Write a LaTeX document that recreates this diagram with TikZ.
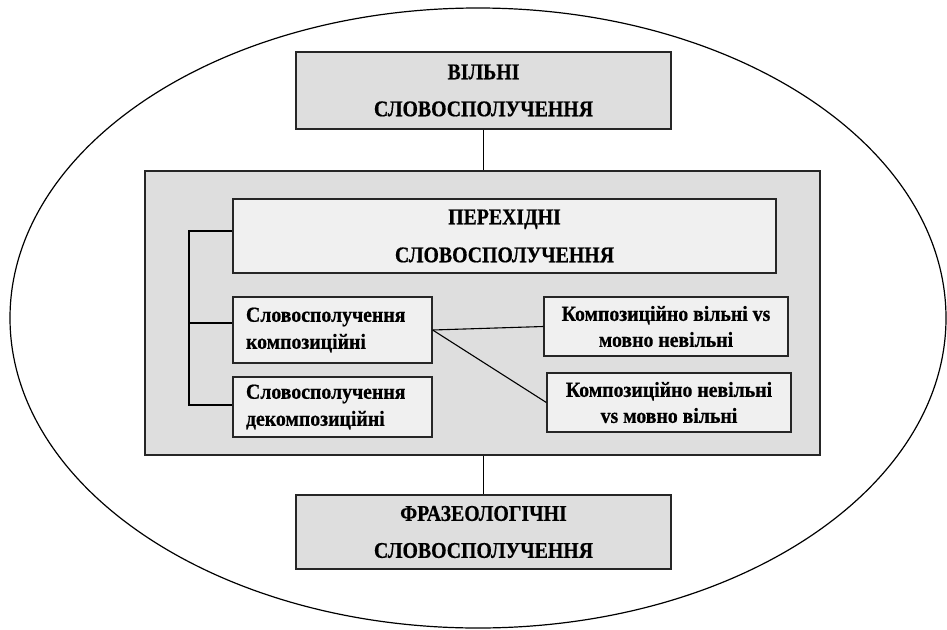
\documentclass[tikz,border=0pt]{standalone}
\usepackage{fontspec}
\setmainfont{Liberation Serif}
\newfontfamily\bigfont{Liberation Serif}[FakeStretch=0.88, BoldFeatures={FakeBold=0.6}]
\newfontfamily\smallfont{Liberation Serif}[FakeStretch=0.92, BoldFeatures={FakeBold=0.6}]
\definecolor{outerfill}{HTML}{DEDEDE}
\definecolor{innerfill}{HTML}{F0F0F0}
\tikzset{
  bigbox/.style={draw=black!85, line width=1.3pt, fill=outerfill, inner sep=0pt, align=center,
    font=\bigfont\fontsize{22.5}{37}\selectfont\bfseries},
  panel/.style={draw=black!85, line width=1.3pt, fill=outerfill, inner sep=0pt},
  transbox/.style={draw=black!85, line width=1.3pt, fill=innerfill, inner sep=0pt, align=center,
    font=\bigfont\fontsize{22.5}{38}\selectfont\bfseries},
  leftbox/.style={draw=black!85, line width=1.3pt, fill=innerfill, inner xsep=13pt, inner ysep=0pt,
    align=left, text width=173pt, font=\smallfont\fontsize{21.5}{27}\selectfont\bfseries},
  rightbox/.style={draw=black!85, line width=1.3pt, fill=innerfill, inner sep=0pt, align=center,
    font=\smallfont\fontsize{21.5}{26}\selectfont\bfseries},
  bracket/.style={line width=2.2pt, draw=black},
  link/.style={line width=1.1pt, draw=black},
}
\begin{document}
\begin{tikzpicture}[x=1pt, y=-1pt]
\useasboundingbox (0,0) rectangle (947,629);
\clip (0,0) rectangle (947,629);
\fill[white] (0,0) rectangle (947,629);
\draw[line width=1.2pt] (478,318) ellipse [x radius=468, y radius=310];

\node[bigbox, minimum width=375pt, minimum height=77pt] (top) at (483.5,90.5) {ВІЛЬНІ\\СЛОВОСПОЛУЧЕННЯ};
\node[panel, minimum width=675pt, minimum height=284pt] (panel) at (482.5,313) {};
\node[transbox, minimum width=543pt, minimum height=74pt] (trans) at (504.5,236) {ПЕРЕХІДНІ\\СЛОВОСПОЛУЧЕННЯ};
\node[leftbox, minimum height=66pt] (comp) at (332.5,330) {Словосполучення\\композиційні};
\node[leftbox, minimum height=60pt] (decomp) at (332.5,407) {Словосполучення\\декомпозиційні};
\node[rightbox, minimum width=244pt, minimum height=59pt] (r1) at (666,326.5) {Композиційно вільні vs\\мовно невільні};
\node[rightbox, minimum width=244pt, minimum height=59pt] (r2) at (669,402.5) {Композиційно невільні\\vs мовно вільні};
\node[bigbox, minimum width=375pt, minimum height=74pt] (bot) at (483.5,532) {ФРАЗЕОЛОГІЧНІ\\СЛОВОСПОЛУЧЕННЯ};

\draw[link] (top.south) -- (top.south |- panel.north);
\draw[link] (bot.north |- panel.south) -- (bot.north);

\coordinate (bt) at (189,231);
\coordinate (bm) at (189,323);
\coordinate (bb) at (189,405);
\draw[bracket] (trans.west |- bt) -- (bt) -- (bb) -- (decomp.west |- bb);
\draw[bracket] (bm) -- (comp.west |- bm);

\draw[link] (comp.east) -- (r1.west);
\draw[link] (comp.east) -- (r2.west);
\end{tikzpicture}
\end{document}
